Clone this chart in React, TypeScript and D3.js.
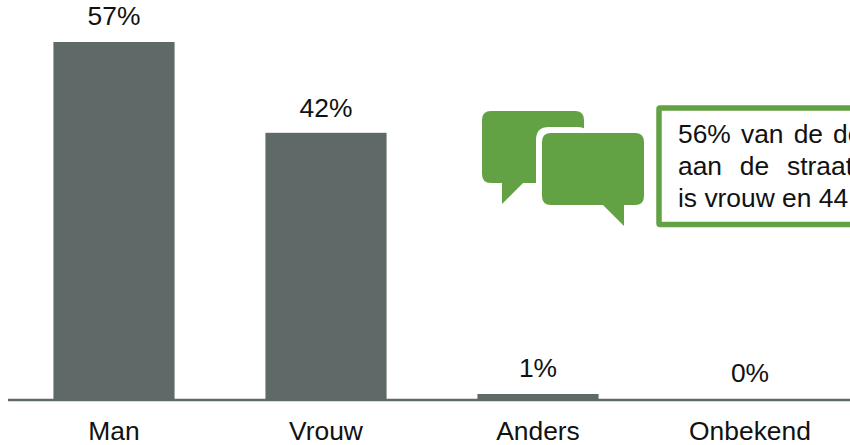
import React from "react";
import * as d3 from "d3";

const categories = ["Man", "Vrouw", "Anders", "Onbekend"];
const values = [57, 42.5, 0.8, 0];
const valueLabels = ["57%", "42%", "1%", "0%"];
const noteLines = ["56% van de de", "aan de straat", "is vrouw en 44"];
const noteWordSpacing = [2.8, 10.5, 0];

const W = 850, H = 445;
const FONT = "'Liberation Sans', Arial, sans-serif";
const BAR = "#5f6967";
const GREEN = "#63a145";
const FS = 26.4;

const x = d3.scaleBand<string>().domain(categories).range([8, 856]).paddingInner(0.4286).paddingOuter(0.2143);
const y = d3.scaleLinear().domain([0, 57]).range([399, 42]);
const labelOffset = [-17, -16, -17, -17];

const bubble = (l: number, t: number, r: number, b: number, rad: number, tail: [number, number][]) => {
  const p = d3.path();
  p.moveTo(l + rad, t);
  p.lineTo(r - rad, t);
  p.quadraticCurveTo(r, t, r, t + rad);
  p.lineTo(r, b - rad);
  p.quadraticCurveTo(r, b, r - rad, b);
  tail.forEach(([a, c]) => p.lineTo(a, c));
  p.lineTo(l + rad, b);
  p.quadraticCurveTo(l, b, l, b - rad);
  p.lineTo(l, t + rad);
  p.quadraticCurveTo(l, t, l + rad, t);
  p.closePath();
  return p.toString();
};

export default function App() {
  return (
    <svg width={W} height={H} viewBox={`0 0 ${W} ${H}`} style={{ position: "absolute", left: 0, top: 0, display: "block" }} fontFamily={FONT}>
      <rect width={W} height={H} fill="#fff" />
      {categories.map((c, i) => (
        <rect key={c} x={x(c)} y={y(values[i])} width={x.bandwidth()} height={y(0) - y(values[i])} fill={BAR} />
      ))}
      <line x1={8} x2={W} y1={400} y2={400} stroke={BAR} strokeWidth={2.4} />
      {categories.map((c, i) => (
        <text key={c} x={x(c)! + x.bandwidth() / 2} y={y(values[i]) + labelOffset[i]} textAnchor="middle" fontSize={FS} fill="#111">{valueLabels[i]}</text>
      ))}
      {categories.map((c) => (
        <text key={c} x={x(c)! + x.bandwidth() / 2} y={440} textAnchor="middle" fontSize={FS} fill="#111">{c}</text>
      ))}
      <path d={bubble(482, 111, 584, 183, 9, [[523, 183], [502, 204], [502, 183]])} fill={GREEN} />
      <path d={bubble(536, 127, 590, 215, 13, [])} fill="#fff" />
      <path d={bubble(542, 133, 644, 205, 9, [[603, 205], [624, 226], [624, 205]])} fill={GREEN} />
      <rect x={659} y={108} width={200} height={116.5} fill="#fff" stroke={GREEN} strokeWidth={5.5} rx={1} />
      {noteLines.map((l, i) => (
        <text key={l} x={678} y={143 + i * 32} fontSize={FS} wordSpacing={noteWordSpacing[i]} fill="#111">{l}</text>
      ))}
    </svg>
  );
}
